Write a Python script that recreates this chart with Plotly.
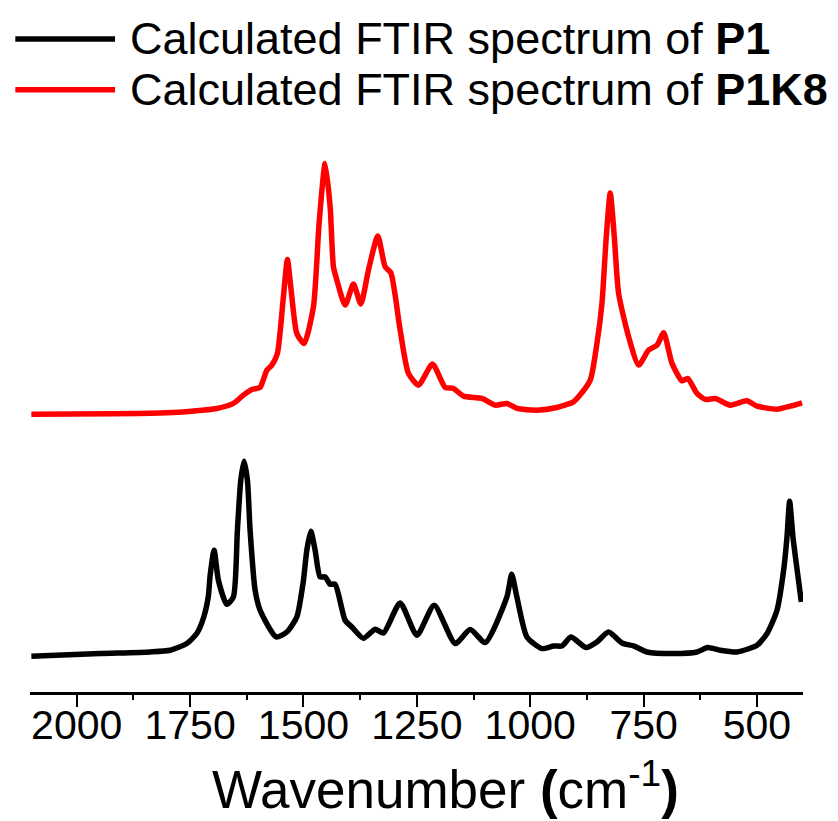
import plotly.graph_objects as go

# Calculated FTIR spectrum of P1 (wavenumber in cm-1, intensity in a.u.)
p1_wavenumber = [2100, 1948.6, 1838.3, 1794.1, 1757.3, 1735.3, 1720.7, 1709.7, 1706.0,
                 1697.1, 1687.6, 1669.1, 1654.5, 1645.7, 1638.2, 1630.9, 1623.6, 1617.7,
                 1606.6, 1595.6, 1560.3, 1536.7, 1514.7, 1500.0, 1492.6, 1483.8, 1474.3,
                 1463.3, 1452.2, 1441.2, 1430.2, 1408.1, 1393.3, 1367.7, 1341.9, 1323.6,
                 1286.8, 1249.9, 1211.8, 1165.4, 1132.4, 1099.3, 1051.4, 1040.8, 1029.4,
                 1007.3, 974.2, 948.6, 930.1, 910.2, 876.5, 852.9, 827.3, 797.7, 772.1,
                 742.6, 683.9, 632.2, 608.9, 580.9, 544.0, 499.9, 477.8, 455.8, 441.2,
                 433.8, 428.0, 420.7, 415.4, 402.2]
p1_intensity = [0.0, 0.0135, 0.0215, 0.03, 0.0635, 0.1135, 0.19, 0.30, 0.40,
                0.53, 0.38, 0.26, 0.2965, 0.63, 0.88, 0.975, 0.88, 0.63,
                0.33, 0.23, 0.0965, 0.1215, 0.1965, 0.38, 0.53, 0.625, 0.53,
                0.3965, 0.3965, 0.36, 0.36, 0.18, 0.1465, 0.09, 0.135, 0.1165,
                0.2665, 0.105, 0.255, 0.0635, 0.1335, 0.0685, 0.2965, 0.41, 0.2965,
                0.0965, 0.0385, 0.0515, 0.0515, 0.0965, 0.0435, 0.0715, 0.1215, 0.0665, 0.0515,
                0.0215, 0.0135, 0.0215, 0.0435, 0.03, 0.0215, 0.055, 0.1135, 0.23, 0.43,
                0.5965, 0.775, 0.5965, 0.50, 0.2715]

# Calculated FTIR spectrum of P1K8
p1k8_wavenumber = [2100, 1801.4, 1691.1, 1654.5, 1632.5, 1613.9, 1595.6, 1580.8, 1569.8,
                   1557.5, 1544.9, 1535.4, 1527.2, 1514.7, 1498.6, 1478.0, 1465.5, 1452.2,
                   1441.2, 1433.9, 1426.4, 1408.1, 1389.8, 1373.5, 1356.7, 1336.0, 1319.9,
                   1307.3, 1286.8, 1268.5, 1246.4, 1215.5, 1187.5, 1169.2, 1147.1, 1106.5,
                   1077.2, 1051.4, 1029.4, 985.2, 941.1, 904.5, 893.5, 867.6, 852.9, 841.8,
                   832.3, 823.5, 814.6, 805.1, 783.0, 760.9, 738.9, 720.4, 705.8, 687.3,
                   665.3, 652.9, 632.2, 613.9, 591.9, 558.8, 522.0, 499.9, 455.8, 426.4, 400.6]
p1k8_intensity = [0.0, 0.0065, 0.0285, 0.0535, 0.095, 0.1235, 0.1335, 0.22, 0.245,
                  0.3035, 0.57, 0.7725, 0.62, 0.4035, 0.3535, 0.5365, 0.9535, 1.2525,
                  1.0365, 0.7365, 0.67, 0.545, 0.65, 0.55, 0.72, 0.89, 0.7365,
                  0.7065, 0.42, 0.2035, 0.145, 0.25, 0.1335, 0.1285, 0.09, 0.0785,
                  0.045, 0.0535, 0.0285, 0.02, 0.0335, 0.0615, 0.0865, 0.17, 0.3535, 0.5535,
                  0.8865, 1.105, 0.8865, 0.6035, 0.3865, 0.245, 0.32, 0.345, 0.4065, 0.2535,
                  0.1665, 0.1785, 0.1035, 0.0735, 0.0785, 0.045, 0.0665, 0.04, 0.025, 0.04, 0.0565]

# vertical stacking offset of the P1K8 trace
p1k8_offset = 1.21

tick_values = [2000, 1750, 1500, 1250, 1000, 750, 500]
tick_labels = ["2000", "1750", "1500", "1250", "1000", "750", "500"]

legend_entries = [
    ("Calculated FTIR spectrum of <b>P1</b>", "#000000"),
    ("Calculated FTIR spectrum of <b>P1K8</b>", "#ff0000"),
]

FONT = "Arial, 'Liberation Sans', sans-serif"

fig = go.Figure()
fig.add_trace(go.Scatter(
    x=p1_wavenumber, y=p1_intensity, mode="lines",
    line=dict(color="#000000", width=5.5, shape="spline", smoothing=0.6),
    showlegend=False, hoverinfo="skip"))
fig.add_trace(go.Scatter(
    x=p1k8_wavenumber, y=[v + p1k8_offset for v in p1k8_intensity], mode="lines",
    line=dict(color="#ff0000", width=5.5, shape="spline", smoothing=0.6),
    showlegend=False, hoverinfo="skip"))

# hand-drawn legend above the plot area
legend_rows = [1.183, 1.091]
for (label, color), ypos in zip(legend_entries, legend_rows):
    fig.add_shape(type="line", xref="paper", yref="paper",
                  x0=-0.019, x1=0.110, y0=ypos, y1=ypos,
                  line=dict(color=color, width=5.5))
    fig.add_annotation(xref="paper", yref="paper", x=0.127, y=ypos,
                       xanchor="left", yanchor="middle", showarrow=False,
                       text=label, font=dict(family=FONT, size=45, color="#000000"))

# axis title
fig.add_annotation(xref="paper", yref="paper", x=0.538, y=-0.170,
                   xanchor="center", yanchor="middle", showarrow=False,
                   text="Wavenumber <b>(</b>cm<sup>-1</sup><b>)</b>",
                   font=dict(family=FONT, size=53, color="#000000"))

fig.update_layout(
    width=838, height=821,
    margin=dict(l=30, r=35.3, t=140, b=129.3),
    paper_bgcolor="white", plot_bgcolor="white",
    font=dict(family=FONT, color="#000000"),
    xaxis=dict(
        range=[2103, 398.5], showgrid=False, zeroline=False,
        showline=True, linecolor="#000000", linewidth=3,
        tickmode="array", tickvals=tick_values, ticktext=tick_labels,
        ticks="outside", ticklen=12, tickwidth=2, tickcolor="#000000",
        ticklabelstandoff=-17,
        tickfont=dict(family=FONT, size=41, color="#000000"),
        minor=dict(tickmode="linear", tick0=2125, dtick=250, ticks="outside",
                   ticklen=5, tickwidth=2, tickcolor="#000000"),
    ),
    yaxis=dict(range=[-0.1785, 2.58], visible=False, showgrid=False, zeroline=False),
)

fig.write_html("out.html")
